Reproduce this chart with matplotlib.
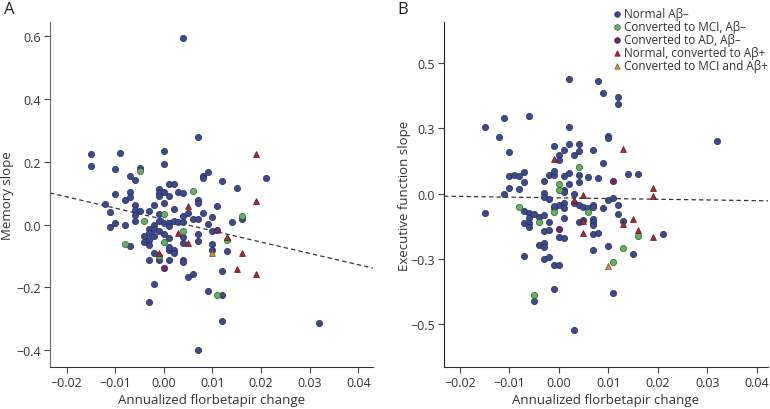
import numpy as np
import matplotlib
matplotlib.use("Agg")
import matplotlib.pyplot as plt

plt.rcParams['font.family'] = ['Open Sans', 'DejaVu Sans']

## Data (x = annualized florbetapir change)

# Panel A - memory slope
a_norm_x = [-0.015, -0.015, -0.009, 0.000, 0.000, -0.010, -0.005, -0.007, -0.006, -0.010,
            -0.007, -0.008, -0.007, -0.012, -0.006, -0.006, -0.006, -0.006, -0.005, -0.002,
            -0.001, -0.001, 0.000, -0.001, 0.000, 0.001, 0.002, 0.001, 0.003, 0.004,
            0.002, 0.007, 0.007, 0.008, 0.008, 0.009, 0.012, 0.015, 0.021, 0.011,
            0.004, 0.007, -0.011, -0.010, -0.011, -0.008, -0.007, -0.004, -0.004, -0.003,
            -0.003, -0.003, -0.003, -0.003, -0.003, -0.003, -0.002, -0.002, -0.002, -0.002,
            -0.001, -0.001, -0.001, -0.001, 0.000, 0.000, 0.001, 0.001, 0.001, 0.001,
            0.001, 0.002, 0.002, 0.002, 0.003, 0.004, 0.004, 0.004, 0.004, 0.004,
            0.004, 0.005, 0.005, 0.006, 0.006, 0.007, 0.007, 0.007, 0.007, 0.008,
            0.009, 0.009, 0.010, 0.010, 0.010, 0.010, 0.012, 0.012, 0.012, 0.013,
            0.014, 0.016, 0.032, -0.002, 0.001]
a_norm_y = [0.225, 0.186, 0.229, 0.236, 0.194, 0.178, 0.180, 0.156, 0.143, 0.099,
            0.103, 0.080, 0.088, 0.066, 0.061, 0.048, 0.030, 0.012, 0.043, 0.062,
            0.113, 0.101, 0.103, 0.090, 0.070, 0.129, 0.131, 0.090, 0.105, 0.100,
            0.051, 0.077, 0.068, 0.155, 0.150, 0.167, 0.139, 0.116, 0.149, 0.058,
            0.595, 0.278, 0.039, 0.004, -0.008, -0.001, -0.069, -0.035, -0.057, 0.043,
            -0.014, -0.027, -0.050, -0.066, -0.114, -0.246, 0.000, -0.014, -0.089, -0.188,
            0.035, 0.011, -0.021, -0.112, 0.005, -0.030, 0.005, -0.003, -0.043, -0.080,
            -0.112, 0.011, -0.082, -0.091, 0.009, 0.027, 0.009, -0.039, -0.059, -0.114,
            -0.118, 0.037, -0.167, 0.019, -0.157, 0.019, -0.029, -0.052, -0.400, 0.037,
            0.003, -0.211, 0.025, -0.019, -0.062, -0.080, -0.149, -0.224, -0.307, -0.083,
            0.009, 0.019, -0.313, -0.037, -0.071]
a_mci_x = [-0.005, 0.006, -0.008, -0.004, -0.001, 0.000, 0.000, 0.004, 0.011, 0.013, 0.016]
a_mci_y = [0.172, 0.106, -0.062, 0.011, -0.099, 0.035, -0.057, -0.021, -0.226, -0.048, 0.029]
a_ad_x = [0.000, 0.011]
a_ad_y = [-0.137, -0.016]
a_pos_x = [0.019, 0.019, 0.005, -0.001, 0.003, 0.005, 0.013, 0.015, 0.016, 0.019]
a_pos_y = [0.226, 0.076, 0.059, -0.089, -0.027, -0.059, -0.041, -0.141, -0.091, -0.157]
a_mcipos_x = [0.010]
a_mcipos_y = [-0.089]
a_fit = [0.0165, -3.61]          # intercept, slope

# Panel B - executive function slope
b_norm_x = [-0.015, -0.012, -0.011, -0.010, -0.006, 0.002, 0.008, 0.009, 0.012, 0.012,
            0.002, 0.010, 0.010, 0.032, -0.001, 0.002, 0.004, 0.001, 0.004, 0.003,
            0.007, 0.000, 0.000, 0.009, -0.010, -0.009, -0.008, -0.007, -0.010, -0.008,
            -0.007, -0.011, -0.003, -0.002, -0.001, -0.001, 0.001, 0.002, 0.004, 0.004,
            0.006, 0.008, 0.014, 0.016, 0.002, 0.001, 0.003, -0.003, -0.002, -0.003,
            0.010, 0.011, 0.001,
            -0.015, -0.007, -0.006, -0.005, -0.004, -0.003, -0.006, -0.007, -0.006, -0.006,
            -0.002, -0.003, -0.002, -0.001, 0.000, 0.001, 0.001, 0.000, 0.001, 0.001,
            -0.004, -0.003, -0.003, -0.007, -0.003, -0.002, -0.001, 0.000, -0.001, -0.005,
            0.003, 0.004, 0.005, 0.006, 0.007, 0.007, 0.009, 0.012, 0.012, 0.004,
            0.005, 0.007, 0.007, 0.007, 0.007, 0.008, 0.013, 0.021, 0.007, 0.010,
            0.015, 0.011, -0.001, 0.003]
b_norm_y = [0.257, 0.217, 0.290, 0.160, 0.298, 0.440, 0.431, 0.385, 0.370, 0.344,
            0.254, 0.221, 0.213, 0.203, 0.182, 0.191, 0.191, 0.166, 0.162, 0.147,
            0.168, 0.149, 0.130, 0.117, 0.066, 0.073, 0.066, 0.084, 0.023, 0.018,
            0.045, -0.003, 0.049, 0.070, 0.070, 0.088, 0.068, 0.080, 0.073, 0.045,
            0.064, 0.061, 0.074, 0.074, 0.038, 0.013, 0.000, 0.004, -0.019, -0.013,
            -0.023, -0.017, 0.006,
            -0.073, -0.066, -0.073, -0.080, -0.089, -0.083, -0.093, -0.113, -0.113, -0.129,
            -0.108, -0.143, -0.138, -0.055, -0.045, -0.037, -0.057, -0.166, -0.172, -0.093,
            -0.198, -0.189, -0.205, -0.238, -0.250, -0.245, -0.275, -0.275, -0.365, -0.411,
            -0.525, -0.042, -0.051, -0.057, -0.042, -0.051, -0.057, -0.045, -0.077, -0.108,
            -0.100, -0.098, -0.108, -0.119, -0.157, -0.153, -0.105, -0.157, -0.217, -0.200,
            -0.233, -0.381, -0.047, -0.035]
b_mci_x = [0.004, 0.000, 0.000, -0.008, -0.004, -0.001, 0.006, 0.016, 0.013, 0.011, -0.005]
b_mci_y = [0.102, 0.038, 0.013, -0.050, -0.108, -0.070, -0.070, -0.162, -0.210, -0.261, -0.389]
b_ad_x = [0.011, 0.000]
b_ad_y = [0.049, -0.135]
b_pos_x = [-0.001, 0.013, 0.005, 0.019, 0.019, 0.003, 0.005, 0.013, 0.015, 0.016, 0.019, 0.005]
b_pos_y = [0.134, 0.172, -0.006, 0.023, -0.010, -0.023, -0.106, -0.117, -0.098, -0.140, -0.166, -0.153]
b_mcipos_x = [0.010]
b_mcipos_y = [-0.277]
b_fit = [-0.0163, -0.27]

labels = ["Normal A\u03b2\u2013", "Converted to MCI, A\u03b2\u2013", "Converted to AD, A\u03b2\u2013",
          "Normal, converted to A\u03b2+", "Converted to MCI and A\u03b2+"]
xticks = [-0.02, -0.01, 0.00, 0.01, 0.02, 0.03, 0.04]
a_yticks = [-0.4, -0.2, 0.0, 0.2, 0.4, 0.6]
b_yticks = [-0.5, -0.25, 0.0, 0.25, 0.5]
b_yticklabels = ["\u22120.5", "\u22120.3", "0.0", "0.3", "0.5"]

# estilos de cada grupo
styles = [dict(marker="o", s=20, c="#3d4a8e", edgecolors="#222b5e"),
          dict(marker="o", s=20, c="#66b062", edgecolors="#2c5e2a"),
          dict(marker="o", s=20, c="#6a2a6c", edgecolors="#3a1040"),
          dict(marker="^", s=18, c="#ab2a30", edgecolors="#5e1015"),
          dict(marker="^", s=18, c="#dc8f3e", edgecolors="#7a4a1a")]

fig = plt.figure(figsize=(7.7, 4.1), dpi=100)
axA = fig.add_axes([50/770, 42/410, 323/770, 345/410])
axB = fig.add_axes([444/770, 42/410, 324/770, 345/410])

def panel(ax, groups, fit, xlim, ylim, ylabel):
    for (gx, gy), st, lab in zip(groups, styles, labels):
        ax.scatter(gx, gy, linewidths=0.5, label=lab, zorder=3, **st)
    xx = np.array(xlim)
    ax.plot(xx, fit[0] + fit[1]*xx, "--", color="#333333", lw=0.9, dashes=(3.5, 2.5), zorder=2)
    ax.set_xlim(xlim), ax.set_ylim(ylim)
    ax.set_xticks(xticks)
    ax.set_xticklabels([f"{v:.2f}".replace("-", "\u2212") for v in xticks])
    for s in ["top", "right"]:
        ax.spines[s].set_visible(False)
    ax.tick_params(labelsize=9, length=4, width=0.8, color="#444444", labelcolor="#333333", pad=2.5)
    ax.set_xlabel("Annualized florbetapir change", fontsize=9.5, color="#333333")
    ax.xaxis.set_label_coords(0.5, -0.075)
    ax.set_ylabel(ylabel, fontsize=9.5, color="#333333")

panel(axA, [(a_norm_x, a_norm_y), (a_mci_x, a_mci_y), (a_ad_x, a_ad_y),
            (a_pos_x, a_pos_y), (a_mcipos_x, a_mcipos_y)],
      a_fit, (-0.0234, 0.043), (-0.454, 0.646), "Memory slope")
axA.set_yticks(a_yticks)
axA.set_yticklabels([f"{v:.1f}".replace("-", "\u2212") for v in a_yticks])
axA.spines["left"].set_color("#666666"), axA.spines["bottom"].set_color("#333333")
axA.yaxis.set_label_coords(-0.113, 0.5)

panel(axB, [(b_norm_x, b_norm_y), (b_mci_x, b_mci_y), (b_ad_x, b_ad_y),
            (b_pos_x, b_pos_y), (b_mcipos_x, b_mcipos_y)],
      b_fit, (-0.0232, 0.0423), (-0.666, 0.659), "Executive function slope")
axB.set_yticks(b_yticks)
axB.set_yticklabels(b_yticklabels)
axB.spines["left"].set_color("#222222"), axB.spines["bottom"].set_color("#333333")
axB.yaxis.set_label_coords(-0.103, 0.5)

axB.legend(loc="upper left", bbox_to_anchor=(611/770, 1 - 8/410), bbox_transform=fig.transFigure,
           frameon=False, fontsize=8.5, handletextpad=0.1, handlelength=1.0, labelspacing=0.0,
           borderpad=0, borderaxespad=0, markerscale=0.9, labelcolor="#333333")

fig.text(4/770, 1 - 2/410, "A", fontsize=12, va="top", color="#222222")
fig.text(397/770, 1 - 2/410, "B", fontsize=12, va="top", color="#222222")

fig.savefig("out.png", dpi=100)
